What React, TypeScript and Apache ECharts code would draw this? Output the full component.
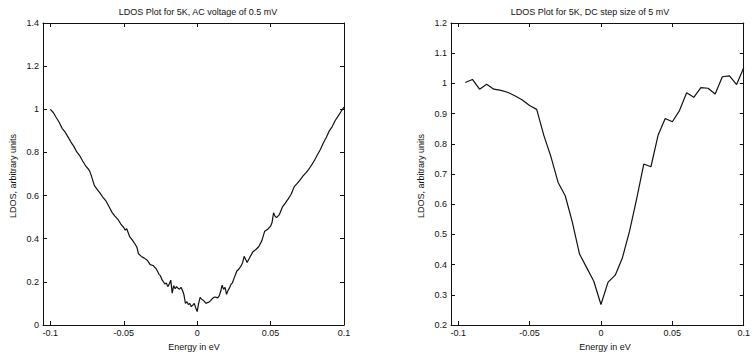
import React, { useEffect, useRef } from "react";
import * as echarts from "echarts";

// Left panel: AC voltage 0.5 mV (energy in eV, LDOS)
const acEnergy = [
  -0.1, -0.098, -0.096, -0.094, -0.092, -0.09, -0.088, -0.086, -0.084, -0.082,
  -0.08, -0.078, -0.076, -0.074, -0.073, -0.072, -0.07, -0.068, -0.066, -0.064,
  -0.062, -0.06, -0.058, -0.056, -0.054, -0.052, -0.05, -0.049, -0.048, -0.046,
  -0.044, -0.042, -0.041, -0.04, -0.038, -0.036, -0.034, -0.033, -0.032, -0.03,
  -0.029, -0.028, -0.026, -0.025, -0.024, -0.022, -0.021, -0.02, -0.019, -0.018,
  -0.017, -0.016, -0.015, -0.014, -0.013, -0.012, -0.011, -0.01, -0.009, -0.008,
  -0.007, -0.006, -0.005, -0.004, -0.003, -0.002, -0.001, 0, 0.001, 0.002,
  0.003, 0.004, 0.005, 0.006, 0.007, 0.008, 0.009, 0.01, 0.011, 0.012,
  0.013, 0.014, 0.015, 0.016, 0.017, 0.018, 0.019, 0.02, 0.021, 0.022,
  0.023, 0.024, 0.025, 0.026, 0.027, 0.028, 0.03, 0.031, 0.032, 0.033,
  0.034, 0.036, 0.038, 0.04, 0.042, 0.044, 0.046, 0.048, 0.05, 0.051,
  0.052, 0.053, 0.054, 0.056, 0.058, 0.06, 0.062, 0.064, 0.066, 0.068,
  0.07, 0.072, 0.074, 0.076, 0.078, 0.08, 0.082, 0.084, 0.086, 0.088,
  0.09, 0.092, 0.094, 0.096, 0.098, 0.1,
];
const acLdos = [
  1.0, 0.985, 0.962, 0.94, 0.912, 0.895, 0.872, 0.848, 0.828, 0.802,
  0.785, 0.76, 0.738, 0.722, 0.71, 0.69, 0.646, 0.628, 0.61, 0.59,
  0.574, 0.548, 0.522, 0.505, 0.49, 0.468, 0.452, 0.44, 0.446, 0.41,
  0.392, 0.372, 0.36, 0.33, 0.318, 0.31, 0.3, 0.29, 0.28, 0.276,
  0.268, 0.262, 0.235, 0.228, 0.21, 0.19, 0.195, 0.178, 0.19, 0.208,
  0.148, 0.182, 0.168, 0.178, 0.17, 0.166, 0.175, 0.16, 0.14, 0.1,
  0.108, 0.095, 0.1, 0.085, 0.092, 0.1, 0.08, 0.062, 0.1, 0.128,
  0.12, 0.115, 0.108, 0.1, 0.104, 0.106, 0.112, 0.12, 0.126, 0.13,
  0.128, 0.126, 0.135, 0.155, 0.185, 0.165, 0.175, 0.142, 0.16, 0.172,
  0.188, 0.195, 0.215, 0.232, 0.25, 0.256, 0.275, 0.29, 0.318, 0.305,
  0.29, 0.315, 0.34, 0.35, 0.364, 0.39, 0.435, 0.444, 0.458, 0.475,
  0.52, 0.505, 0.498, 0.512, 0.546, 0.565, 0.585, 0.606, 0.64, 0.655,
  0.672, 0.69, 0.705, 0.722, 0.742, 0.765, 0.79, 0.815, 0.845, 0.87,
  0.9, 0.92, 0.948, 0.968, 0.99, 1.01,
];

// Right panel: DC step size 5 mV
const dcEnergy = [
  -0.095, -0.09, -0.085, -0.08, -0.075, -0.07, -0.065, -0.06, -0.055, -0.05,
  -0.045, -0.04, -0.035, -0.03, -0.025, -0.02, -0.015, -0.01, -0.005, 0,
  0.005, 0.01, 0.015, 0.02, 0.025, 0.03, 0.035, 0.04, 0.045, 0.05,
  0.055, 0.06, 0.065, 0.07, 0.075, 0.08, 0.085, 0.09, 0.095, 0.1,
];
const dcLdos = [
  1.003, 1.013, 0.981, 0.997, 0.981, 0.977, 0.97, 0.958, 0.945, 0.927,
  0.914, 0.828, 0.757, 0.672, 0.628, 0.54, 0.435, 0.39, 0.345, 0.268,
  0.342, 0.365, 0.422, 0.51, 0.618, 0.733, 0.724, 0.828, 0.884, 0.873,
  0.91, 0.969, 0.954, 0.986, 0.984, 0.965, 1.022, 1.025, 0.996, 1.052,
];

const xTicks = [-0.1, -0.05, 0, 0.05, 0.1];
const leftTitle = "LDOS Plot for 5K, AC voltage of 0.5 mV";
const rightTitle = "LDOS Plot for 5K, DC step size of 5 mV";
const xName = "Energy in eV";
const yName = "LDOS, arbitrary units";

const FONT = "'Liberation Sans', Arial, sans-serif";
const INK = "#111";

export default function App() {
  const ref = useRef<HTMLDivElement>(null);
  useEffect(() => {
    if (!ref.current) return;
    const chart = echarts.init(ref.current, undefined, { renderer: "svg" });
    const label = { color: INK, fontSize: 9, fontFamily: FONT };
    const line = { show: true, onZero: false, lineStyle: { color: INK, width: 1 } };
    const mkX = (grid: number, pos: "bottom" | "top") => ({
      type: "value" as const,
      gridIndex: grid,
      position: pos,
      min: -0.105,
      max: 0.1,
      axisLine: line,
      splitLine: { show: false },
      axisTick: { show: true, inside: true, length: 4, customValues: xTicks, lineStyle: { color: INK } },
      axisLabel: pos === "bottom"
        ? { ...label, margin: 3, customValues: xTicks, showMinLabel: true, showMaxLabel: true }
        : { show: false },
    });
    const mkY = (grid: number, pos: "left" | "right", min: number, max: number, interval: number) => ({
      type: "value" as const,
      gridIndex: grid,
      position: pos,
      min,
      max,
      interval,
      axisLine: line,
      splitLine: { show: false },
      axisTick: { show: true, inside: true, length: 4, lineStyle: { color: INK } },
      axisLabel: pos === "left" ? { ...label, margin: 4 } : { show: false },
    });
    const txt = (x: number, y: number, text: string, rotation = 0) => ({
      type: "text" as const,
      x,
      y,
      rotation,
      style: { text, fill: INK, font: `9px ${FONT}`, textAlign: "center", textVerticalAlign: "middle" },
    });
    chart.setOption({
      animation: false,
      backgroundColor: "#fff",
      grid: [
        { left: 43, top: 23, width: 301, height: 302 },
        { left: 451, top: 23, width: 303, height: 302 },
      ],
      xAxis: [mkX(0, "bottom"), mkX(0, "top"), mkX(1, "bottom"), mkX(1, "top")],
      yAxis: [
        mkY(0, "left", 0, 1.4, 0.2),
        mkY(0, "right", 0, 1.4, 0.2),
        mkY(1, "left", 0.2, 1.2, 0.1),
        mkY(1, "right", 0.2, 1.2, 0.1),
      ],
      series: [
        {
          type: "line",
          xAxisIndex: 0,
          yAxisIndex: 0,
          data: acEnergy.map((e, i) => [e, acLdos[i]]),
          showSymbol: false,
          lineStyle: { color: INK, width: 1.2 },
        },
        {
          type: "line",
          xAxisIndex: 2,
          yAxisIndex: 2,
          data: dcEnergy.map((e, i) => [e, dcLdos[i]]),
          showSymbol: false,
          lineStyle: { color: INK, width: 1.2 },
        },
      ],
      graphic: [
        txt(198, 12, leftTitle),
        txt(590, 12, rightTitle),
        txt(194, 347, xName),
        txt(605, 347, xName),
        txt(13, 176, yName, Math.PI / 2),
        txt(421, 176, yName, Math.PI / 2),
      ],
    });
    return () => chart.dispose();
  }, []);
  return (
    <div
      ref={ref}
      style={{ position: "fixed", left: 0, top: 0, width: 753, height: 355, background: "#fff" }}
    />
  );
}
